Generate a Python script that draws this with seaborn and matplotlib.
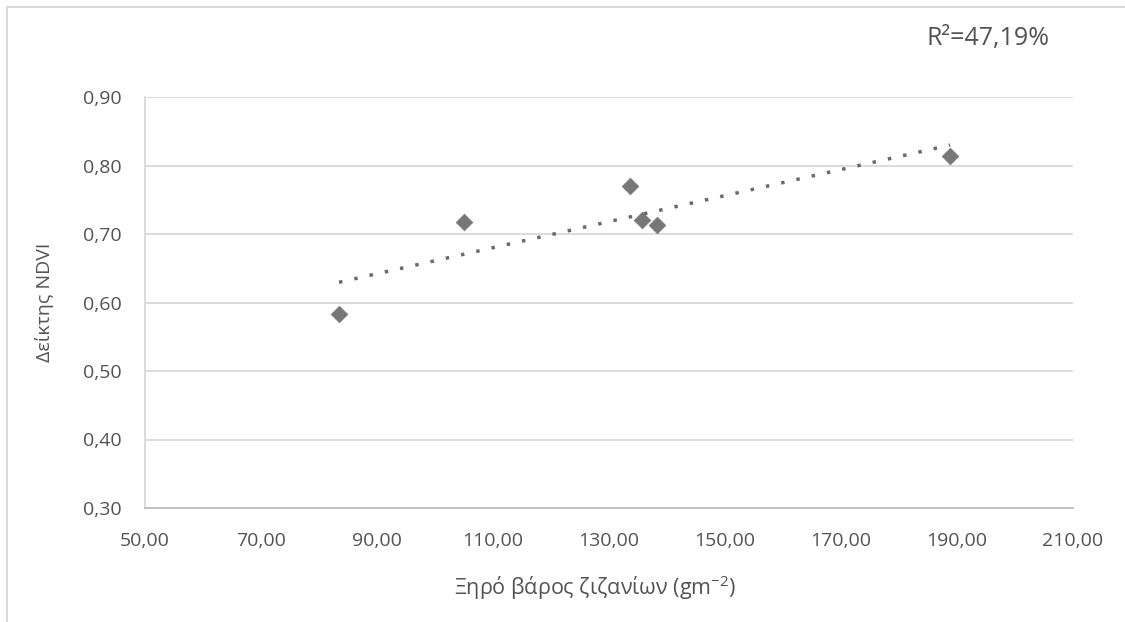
import numpy as np
import pandas as pd
import matplotlib
matplotlib.use("Agg")
import matplotlib.pyplot as plt
from matplotlib.ticker import FuncFormatter, FixedLocator
from matplotlib.lines import Line2D
import seaborn as sns

# ---- data ----
dry_weight = [83.45, 105.0, 133.6, 135.7, 138.3, 188.8]
ndvi = [0.583, 0.7175, 0.770, 0.720, 0.713, 0.814]
x_ticks = [50, 70, 90, 110, 130, 150, 170, 190, 210]
y_ticks = [0.30, 0.40, 0.50, 0.60, 0.70, 0.80, 0.90]
r2_text = "R²=47,19%"
x_label = "Ξηρό βάρος ζιζανίων (gm$^{-2}$)"
y_label = "Δείκτης NDVI"

sns.set_theme(style="white")
plt.rcParams['font.family'] = ['Open Sans', 'DejaVu Sans']
plt.rcParams['mathtext.fontset'] = 'custom'
plt.rcParams['mathtext.rm'] = 'Open Sans'
plt.rcParams['mathtext.default'] = 'regular'

TXT = '#535353'
GRID = '#d9d9d9'

df = pd.DataFrame({"x": dry_weight, "y": ndvi})

fig = plt.figure(figsize=(11.25, 6.22), dpi=100)
ax = fig.add_axes([145/1125, 1-508/622, (1073-145)/1125, (508-97)/622])

# trend line (least squares)
coef = np.polyfit(df["x"], df["y"], 1)
xs = np.array([min(dry_weight), max(dry_weight)])
ax.plot(xs, np.polyval(coef, xs), color='#6a6a6a', lw=2.5,
        linestyle=(0, (1, 3.5)), zorder=2)

sns.scatterplot(data=df, x="x", y="y", marker='D', s=72, color='#777777',
                edgecolor='#777777', linewidth=0.5, ax=ax, zorder=3)

ax.set_xlim(50, 210)
ax.set_ylim(0.30, 0.90)
ax.xaxis.set_major_locator(FixedLocator(x_ticks))
ax.yaxis.set_major_locator(FixedLocator(y_ticks))
fmt = FuncFormatter(lambda v, p: f"{v:.2f}".replace('.', ','))
ax.xaxis.set_major_formatter(fmt)
ax.yaxis.set_major_formatter(fmt)
ax.tick_params(axis='both', length=0, labelsize=14, labelcolor=TXT)
ax.tick_params(axis='y', pad=17)
ax.tick_params(axis='x', pad=17)
ax.grid(axis='y', color=GRID, lw=1.3)
ax.set_axisbelow(True)
for s in ['top', 'right']:
    ax.spines[s].set_visible(False)
ax.spines['left'].set_color(GRID)
ax.spines['left'].set_linewidth(1.3)
ax.spines['bottom'].set_color('#bfbfbf')
ax.spines['bottom'].set_linewidth(1.3)
ax.set_xlabel("")
ax.set_ylabel("")

fig.text(595/1125, 1-588/622, x_label, ha='center', va='center', fontsize=15.5, color=TXT)
fig.text(45/1125, 1-302/622, y_label, ha='center', va='center', rotation=90, fontsize=14, color=TXT)
fig.text(988/1125, 1-38/622, r2_text, ha='center', va='center', fontsize=18, color=TXT)

# chart area border (top and left visible)
fig.add_artist(Line2D([7/1125, 1], [1-7/622, 1-7/622], transform=fig.transFigure, color=GRID, lw=1.5))
fig.add_artist(Line2D([7/1125, 7/1125], [0, 1-7/622], transform=fig.transFigure, color=GRID, lw=1.5))

fig.savefig("out.png", dpi=100, facecolor='white')
